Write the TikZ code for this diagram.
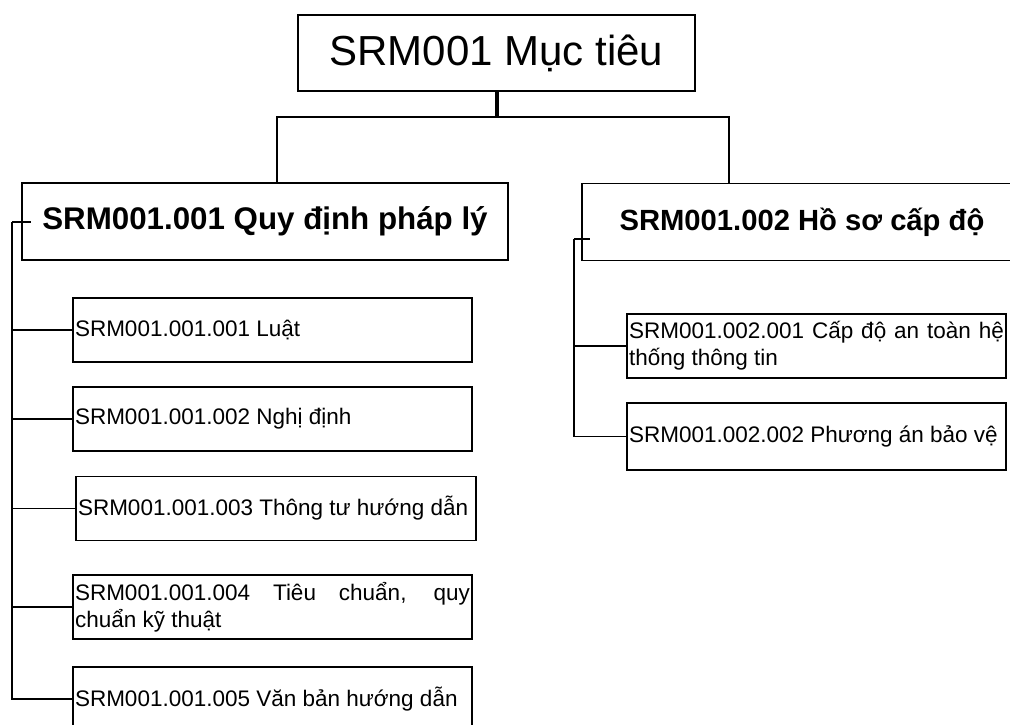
\documentclass[tikz,border=0pt]{standalone}
\usepackage{fontspec}
\setmainfont{Liberation Sans}
\usepackage{tikz}
\usetikzlibrary{positioning}
\hyphenpenalty=10000
\exhyphenpenalty=10000

\tikzset{
  topbox/.style={draw, line width=1.8pt, inner sep=0pt, minimum width=397pt, minimum height=76pt,
    font=\fontsize{42}{50}\selectfont},
  groupbox/.style={draw, line width=1.8pt, inner sep=0pt, minimum height=77pt, font=\bfseries},
  itembox/.style={draw, line width=1.6pt, inner xsep=2pt, inner ysep=0pt, minimum height=64pt,
    align=justify, font=\fontsize{22.5}{27}\selectfont},
  conn/.style={line width=1.6pt},
  thickconn/.style={line width=4pt}
}

\begin{document}
\begin{tikzpicture}[x=1pt, y=-1pt]
  \useasboundingbox (0,0) rectangle (1010,725);

  % Top
  \node[topbox] (muctieu) at (496.5,53) {SRM001 Mục tiêu};

  % Groups
  \node[groupbox, minimum width=486pt, font=\fontsize{31.3}{37}\selectfont\bfseries] (quydinh) at (265,221.5) {SRM001.001 Quy định pháp lý};
  \node[groupbox, minimum width=440pt, font=\fontsize{29.2}{35}\selectfont\bfseries] (hoso) at (802,222) {SRM001.002 Hồ sơ cấp độ};

  % Items, left
  \node[itembox, text width=395pt] (luat) at (272.5,330) {SRM001.001.001 Luật};
  \node[itembox, text width=395pt] (nghidinh) at (272.5,419) {SRM001.001.002 Nghị định};
  \node[itembox, text width=396pt] (thongtu) at (276,508.5) {SRM001.001.003 Thông tư hướng dẫn};
  \node[itembox, text width=395pt] (tieuchuan) at (272.5,607) {SRM001.001.004 Tiêu chuẩn, quy\linebreak chuẩn kỹ thuật};
  \node[itembox, text width=395pt] (vanban) at (272.5,699) {SRM001.001.005 Văn bản hướng dẫn};

  % Items, right
  \node[itembox, text width=375pt] (capdo) at (816.5,346) {SRM001.002.001 Cấp độ an toàn hệ\linebreak thống thông tin};
  \node[itembox, text width=375pt, minimum height=67pt] (phuongan) at (816.5,436.5) {SRM001.002.002 Phương án bảo vệ};

  % Connectors, top
  \coordinate (busL) at (277,117);
  \coordinate (busR) at (729,117);
  \draw[thickconn] (muctieu.south) -- (muctieu.south |- busL);
  \draw[conn] (busL |- quydinh.north) -- (busL) -- (busR) -- (busR |- hoso.north);

  % Connectors, left
  \coordinate (trunkL) at (12,222);
  \draw[conn] (trunkL) -- ++(19,0);
  \draw[conn] (trunkL) |- (vanban.west);
  \foreach \n in {luat, nghidinh, thongtu, tieuchuan}
    \draw[conn] (trunkL |- \n.west) -- (\n.west);

  % Connectors, right
  \coordinate (trunkR) at (574,239);
  \draw[conn] (trunkR) -- ++(16,0);
  \draw[conn] (trunkR) |- (phuongan.west);
  \draw[conn] (trunkR |- capdo.west) -- (capdo.west);
\end{tikzpicture}
\end{document}
